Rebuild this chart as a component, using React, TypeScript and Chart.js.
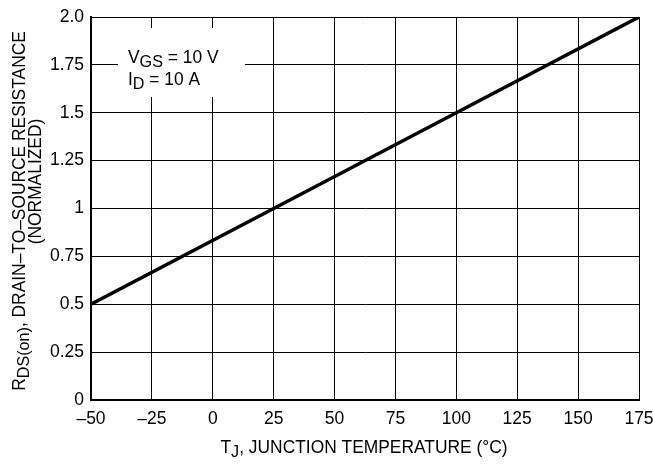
import { useEffect, useRef } from "react";
import { Chart, registerables } from "chart.js";

Chart.register(...registerables);

// ---- data ----
const temperatures = [-50, 25, 100, 175];
const resistance = [0.5, 1.0, 1.5, 2.0];

const xTickValues = [-50, -25, 0, 25, 50, 75, 100, 125, 150, 175];
const xTickLabels = ["–50", "–25", "0", "25", "50", "75", "100", "125", "150", "175"];
const yTickValues = [0, 0.25, 0.5, 0.75, 1, 1.25, 1.5, 1.75, 2];
const yTickLabels = ["0", "0.25", "0.5", "0.75", "1", "1.25", "1.5", "1.75", "2.0"];

type Part = { t: string; sub?: boolean };
const legendLine1: Part[] = [{ t: "V" }, { t: "GS", sub: true }, { t: " = 10 V" }];
const legendLine2: Part[] = [{ t: "I" }, { t: "D", sub: true }, { t: " = 10 A" }];
const yTitle1: Part[] = [
  { t: "R" },
  { t: "DS(on)", sub: true },
  { t: ", DRAIN–TO–SOURCE RESISTANCE" },
];
const yTitle2: Part[] = [{ t: "(NORMALIZED)" }];
const xTitle: Part[] = [{ t: "T" }, { t: "J", sub: true }, { t: ", JUNCTION TEMPERATURE (°C)" }];

const FAMILY = '"Liberation Sans", Arial, Helvetica, sans-serif';
const MAIN = 18.6;
const SUB = 17.3;
const SUB_SHIFT = 4.4;
const SX = 0.935;

function fontStr(size: number) {
  return `${size}px ${FAMILY}`;
}

function richWidth(ctx: CanvasRenderingContext2D, parts: Part[]) {
  let w = 0;
  for (const p of parts) {
    ctx.font = fontStr(p.sub ? SUB : MAIN);
    w += ctx.measureText(p.t).width;
  }
  return w * SX;
}

function drawRich(ctx: CanvasRenderingContext2D, parts: Part[], x: number, y: number) {
  ctx.save();
  ctx.translate(x, y);
  ctx.scale(SX, 1);
  let cx = 0;
  ctx.textBaseline = "alphabetic";
  ctx.textAlign = "left";
  for (const p of parts) {
    ctx.font = fontStr(p.sub ? SUB : MAIN);
    ctx.fillText(p.t, cx, p.sub ? SUB_SHIFT : 0);
    cx += ctx.measureText(p.t).width;
  }
  ctx.restore();
}

const decorations = {
  id: "decorations",
  afterDraw(chart: any) {
    const ctx: CanvasRenderingContext2D = chart.ctx;
    const a = chart.chartArea;
    ctx.save();

    // legend box (white, hides grid)
    ctx.fillStyle = "#fff";
    ctx.fillRect(a.left + 27, a.top + 11, 127, 69);
    ctx.fillStyle = "#000";
    drawRich(ctx, legendLine1, a.left + 37, a.top + 45.5);
    drawRich(ctx, legendLine2, a.left + 37, a.top + 68);

    // x title
    const xw = richWidth(ctx, xTitle);
    drawRich(ctx, xTitle, (a.left + a.right) / 2 - xw / 2 - 1, 453);

    // y title (two lines, rotated)
    const w1 = richWidth(ctx, yTitle1);
    ctx.save();
    ctx.translate(24.5, 211 + w1 / 2);
    ctx.rotate(-Math.PI / 2);
    drawRich(ctx, yTitle1, 0, 0);
    ctx.restore();

    const w2 = richWidth(ctx, yTitle2);
    ctx.save();
    ctx.translate(41, 181.5 + w2 / 2);
    ctx.rotate(-Math.PI / 2);
    drawRich(ctx, yTitle2, 0, 0);
    ctx.restore();

    ctx.restore();
  },
};

export default function App() {
  const ref = useRef<HTMLCanvasElement | null>(null);

  useEffect(() => {
    if (!ref.current) return;
    const chart = new Chart(ref.current, {
      type: "line",
      data: {
        datasets: [
          {
            data: temperatures.map((t, i) => ({ x: t, y: resistance[i] })),
            borderColor: "#000",
            borderWidth: 3.5,
            pointRadius: 0,
            tension: 0,
            fill: false,
          },
        ],
      },
      options: {
        animation: false,
        responsive: false,
        devicePixelRatio: 1,
        events: [],
        layout: { padding: { top: 17, right: 14, left: 0, bottom: 0 } },
        plugins: {
          legend: { display: false },
          tooltip: { enabled: false },
          title: { display: false },
        },
        scales: {
          x: {
            type: "linear",
            min: -50,
            max: 175,
            afterBuildTicks: (scale: any) => {
              scale.ticks = xTickValues.map((v) => ({ value: v }));
            },
            afterFit: (scale: any) => {
              scale.height = 68;
              scale.paddingLeft = 0;
              scale.paddingRight = 0;
            },
            ticks: {
              color: "#000",
              padding: 9,
              maxRotation: 0,
              autoSkip: false,
              font: { family: FAMILY, size: 17.5 },
              callback: (v: any) => xTickLabels[xTickValues.indexOf(Number(v))] ?? "",
            },
            grid: { color: "#000", lineWidth: 1, drawTicks: false },
            border: { display: true, color: "#000", width: 2 },
          },
          y: {
            type: "linear",
            min: 0,
            max: 2,
            afterBuildTicks: (scale: any) => {
              scale.ticks = yTickValues.map((v) => ({ value: v }));
            },
            afterFit: (scale: any) => {
              scale.width = 91;
              scale.paddingTop = 0;
              scale.paddingBottom = 0;
            },
            ticks: {
              color: "#000",
              padding: 7,
              autoSkip: false,
              font: { family: FAMILY, size: 17.5 },
              callback: (v: any) => yTickLabels[yTickValues.indexOf(Number(v))] ?? "",
            },
            grid: { color: "#000", lineWidth: 1, drawTicks: false },
            border: { display: true, color: "#000", width: 2 },
          },
        },
      },
      plugins: [decorations],
    });
    return () => chart.destroy();
  }, []);

  return (
    <div style={{ position: "fixed", left: 0, top: 0, width: 653, height: 468, background: "#fff" }}>
      <canvas ref={ref} width={653} height={468} style={{ display: "block" }} />
    </div>
  );
}
